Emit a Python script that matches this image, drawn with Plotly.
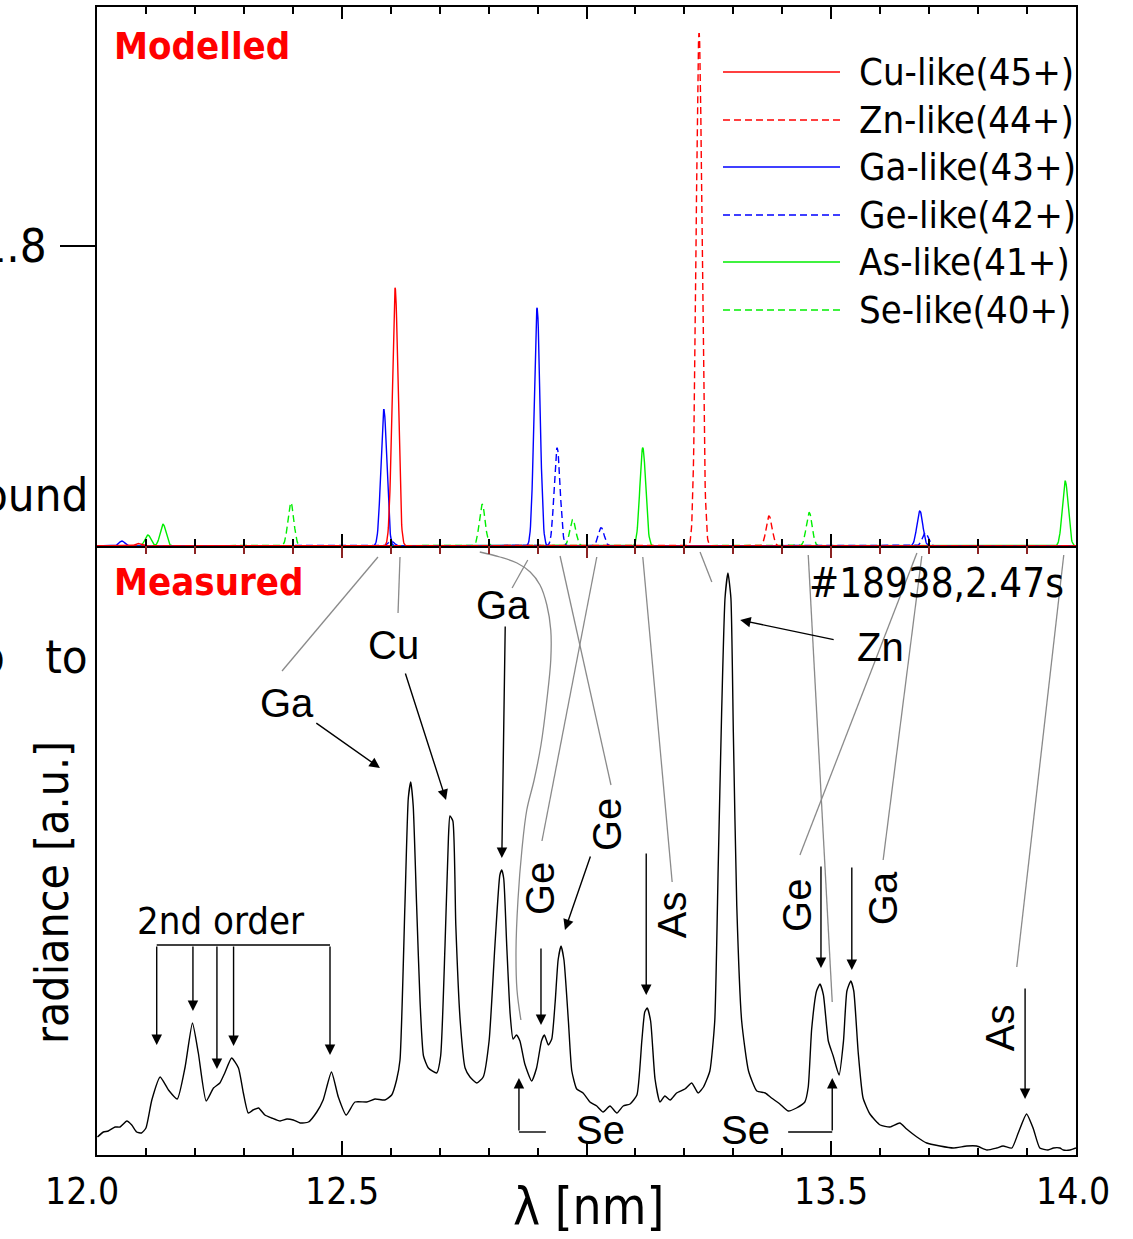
import numpy as np
import plotly.graph_objects as go

# ---------------- modelled line lists: wavelength [nm] and relative intensity ----------------
cu_like_wl = [12.084, 12.609]
cu_like_int = [0.015, 1.55]
zn_like_wl = [13.230, 13.373]
zn_like_int = [3.08, 0.18]
ga_like_wl = [12.051, 12.586, 12.899, 13.681]
ga_like_int = [0.03, 0.82, 1.43, 0.21]
ge_like_wl = [12.601, 12.940, 13.030, 13.692]
ge_like_int = [0.03, 0.59, 0.11, 0.08]
as_like_wl = [12.104, 12.135, 13.115, 13.978]
as_like_int = [0.066, 0.13, 0.59, 0.39]
se_like_wl = [12.396, 12.787, 12.972, 13.455]
se_like_int = [0.26, 0.25, 0.16, 0.20]
line_sigma_nm = 0.006  # instrumental broadening of the synthetic lines

series_names = ["Cu-like(45+)", "Zn-like(44+)", "Ga-like(43+)",
                "Ge-like(42+)", "As-like(41+)", "Se-like(40+)"]

# ---------------- measured spectrum (#18938, 2.47 s) ----------------
meas_wl = [12.001, 12.013, 12.023, 12.037, 12.047, 12.061, 12.071, 12.081, 12.091, 12.100,
           12.112, 12.129, 12.146, 12.164, 12.180, 12.195, 12.207, 12.223, 12.238, 12.251,
           12.261, 12.275, 12.289, 12.299, 12.309, 12.319, 12.330, 12.343, 12.357, 12.374,
           12.388, 12.401, 12.415, 12.432, 12.449, 12.462, 12.479, 12.493, 12.509, 12.527,
           12.551, 12.568, 12.588, 12.602, 12.612, 12.619, 12.629, 12.636, 12.641, 12.646,
           12.653, 12.660, 12.667, 12.677, 12.694, 12.702, 12.711, 12.718, 12.721, 12.727,
           12.733, 12.742, 12.752, 12.762, 12.776, 12.789, 12.801, 12.813, 12.823, 12.827,
           12.831, 12.837, 12.844, 12.850, 12.857, 12.864, 12.874, 12.888, 12.898, 12.908,
           12.914, 12.922, 12.929, 12.936, 12.942, 12.948, 12.954, 12.963, 12.970, 12.980,
           12.993, 13.007, 13.021, 13.034, 13.048, 13.062, 13.075, 13.089, 13.103, 13.113,
           13.119, 13.124, 13.131, 13.140, 13.150, 13.160, 13.171, 13.184, 13.201, 13.215,
           13.228, 13.239, 13.252, 13.262, 13.269, 13.276, 13.283, 13.289, 13.295, 13.300,
           13.307, 13.317, 13.331, 13.348, 13.365, 13.378, 13.395, 13.412, 13.429, 13.446,
           13.453, 13.460, 13.470, 13.477, 13.484, 13.494, 13.504, 13.516, 13.525, 13.532,
           13.540, 13.546, 13.555, 13.565, 13.579, 13.600, 13.620, 13.640, 13.654, 13.675,
           13.695, 13.722, 13.749, 13.777, 13.797, 13.818, 13.838, 13.851, 13.869, 13.882,
           13.899, 13.913, 13.926, 13.943, 13.954, 13.967, 13.974, 13.988, 14.000]
meas_rad = [0.18, 0.23, 0.24, 0.28, 0.28, 0.34, 0.30, 0.23, 0.22, 0.27,
            0.55, 0.78, 0.65, 0.56, 0.88, 1.32, 1.02, 0.54, 0.67, 0.72,
            0.82, 0.97, 0.87, 0.62, 0.42, 0.45, 0.47, 0.40, 0.37, 0.34,
            0.36, 0.35, 0.32, 0.33, 0.43, 0.55, 0.83, 0.58, 0.40, 0.53,
            0.53, 0.56, 0.55, 0.60, 0.75, 0.95, 2.49, 3.57, 3.73, 3.49,
            2.49, 1.53, 0.99, 0.87, 0.82, 0.99, 2.10, 3.18, 3.39, 3.34,
            2.30, 1.34, 0.87, 0.78, 0.72, 0.78, 1.14, 2.10, 2.80, 2.85,
            2.76, 2.10, 1.41, 1.16, 1.20, 1.14, 0.91, 0.74, 0.87, 1.14,
            1.20, 1.10, 1.16, 1.53, 1.95, 2.09, 1.95, 1.34, 0.84, 0.66,
            0.62, 0.53, 0.49, 0.43, 0.49, 0.42, 0.49, 0.51, 0.60, 1.14,
            1.43, 1.47, 1.34, 0.76, 0.53, 0.59, 0.55, 0.62, 0.66, 0.72,
            0.62, 0.68, 0.84, 1.34, 2.87, 4.41, 5.57, 5.82, 5.57, 4.22,
            2.49, 1.34, 0.84, 0.64, 0.62, 0.57, 0.51, 0.44, 0.47, 0.53,
            0.68, 1.26, 1.64, 1.71, 1.60, 1.14, 0.99, 0.80, 1.14, 1.64,
            1.74, 1.64, 1.03, 0.57, 0.41, 0.30, 0.28, 0.32, 0.26, 0.18,
            0.12, 0.09, 0.07, 0.09, 0.09, 0.05, 0.07, 0.09, 0.07, 0.22,
            0.41, 0.26, 0.07, 0.05, 0.07, 0.07, 0.05, 0.05, 0.07]

x_tick_vals = [12.0, 12.5, 13.0, 13.5, 14.0]
x_label_vals = [12.0, 12.5, 13.5, 14.0]
x_label_text = ["12.0", "12.5", "13.5", "14.0"]

# ---------------- geometry ----------------
W, H = 1133, 1239
ML, MR, MT, MB = 97, 57, 7, 84
PW, PH = W - ML - MR, H - MT - MB
SPLIT = (H - MB - 546) / PH  # boundary between the two panels


def pxx(x):
    return (x - ML) / PW


def pxy(y):
    return (H - MB - y) / PH


NARROW = "DejaVu Sans Condensed, Liberation Sans Narrow, Arial Narrow, sans-serif"
SANS = "Liberation Sans, Arial, Helvetica, sans-serif"
RED, BLUE, GREEN = "#ff0000", "#0000ff", "#00ee00"
DASH = "7px,4px"

fig = go.Figure()

# ---------------- modelled spectra (top panel) ----------------
grid = np.arange(12.0, 14.0 + 1e-9, 0.0008)


def broadened(wl, amp):
    prof = np.zeros_like(grid)
    for c, a in zip(wl, amp):
        prof += a * np.exp(-0.5 * ((grid - c) / line_sigma_nm) ** 2)
    return prof


model = [
    (series_names[4], as_like_wl, as_like_int, GREEN, "solid"),
    (series_names[5], se_like_wl, se_like_int, GREEN, DASH),
    (series_names[2], ga_like_wl, ga_like_int, BLUE, "solid"),
    (series_names[3], ge_like_wl, ge_like_int, BLUE, DASH),
    (series_names[0], cu_like_wl, cu_like_int, RED, "solid"),
    (series_names[1], zn_like_wl, zn_like_int, RED, DASH),
]
for name, wl, amp, col, dash in model:
    fig.add_trace(go.Scatter(x=grid, y=broadened(wl, amp), mode="lines", name=name,
                             line=dict(color=col, width=1.4, dash=dash),
                             xaxis="x", yaxis="y", hoverinfo="skip"))

# ---------------- measured spectrum (bottom panel) ----------------
fig.add_trace(go.Scatter(x=meas_wl, y=meas_rad, mode="lines", name="measured",
                         line=dict(color="black", width=1.4, shape="spline", smoothing=0.5),
                         xaxis="x2", yaxis="y2", hoverinfo="skip"))

# curved leader from the Se-like model line to the measured Se feature
se_lead_wl = [12.782, 12.823, 12.858, 12.885, 12.905, 12.919, 12.927, 12.927, 12.919,
              12.907, 12.893, 12.878, 12.868, 12.860, 12.856, 12.858, 12.866]
se_lead_rad = [6.03, 5.98, 5.92, 5.83, 5.70, 5.50, 5.25, 4.95, 4.55,
               4.10, 3.75, 3.45, 3.05, 2.55, 2.05, 1.65, 1.35]
fig.add_trace(go.Scatter(x=se_lead_wl, y=se_lead_rad, mode="lines",
                         line=dict(color="#8a8a8a", width=1.3, shape="spline"),
                         xaxis="x2", yaxis="y2", hoverinfo="skip"))

# carrier for the dark-red tick row on the upper edge of the lower panel
fig.add_trace(go.Scatter(x=[], y=[], xaxis="x3", yaxis="y2", hoverinfo="skip"))

shapes = []
annotations = []

# straight grey leaders: model line -> measured label
leaders = [
    (12.574, 5.98, 12.378, 4.84),
    (12.619, 5.98, 12.615, 5.42),
    (12.880, 5.95, 12.848, 5.67),
    (12.946, 5.99, 13.050, 3.70),
    (13.021, 5.98, 12.909, 3.14),
    (13.115, 5.98, 13.175, 2.73),
    (13.232, 6.03, 13.256, 5.73),
    (13.453, 6.00, 13.502, 1.53),
    (13.675, 6.02, 13.436, 3.00),
    (13.685, 5.99, 13.606, 2.95),
    (13.975, 6.00, 13.879, 1.88),
]
for x0, y0, x1, y1 in leaders:
    shapes.append(dict(type="line", xref="x2", yref="y2", x0=x0, y0=y0, x1=x1, y1=y1,
                       line=dict(color="#8a8a8a", width=1.3)))


def arrow(x0, y0, x1, y1):
    annotations.append(dict(x=x1, y=y1, ax=x0, ay=y0, xref="x2", yref="y2",
                            axref="x2", ayref="y2", text="", showarrow=True,
                            arrowhead=2, arrowsize=1.5, arrowwidth=1.4,
                            arrowcolor="black", standoff=0, startstandoff=0))


def seg(x0, y0, x1, y1):
    shapes.append(dict(type="line", xref="x2", yref="y2", x0=x0, y0=y0, x1=x1, y1=y1,
                       line=dict(color="black", width=1.4)))


# black identification arrows
arrow(12.445, 4.33, 12.578, 3.87)   # Ga
arrow(12.629, 4.83, 12.713, 3.55)   # Cu
arrow(12.834, 5.30, 12.827, 2.97)   # Ga
arrow(12.907, 2.08, 12.907, 1.30)   # Ge
arrow(13.009, 3.00, 12.956, 2.25)   # Ge
arrow(13.122, 3.03, 13.122, 1.60)   # As
arrow(13.508, 5.15, 13.314, 5.35)   # Zn
arrow(13.479, 2.90, 13.479, 1.87)   # Ge
arrow(13.542, 2.89, 13.542, 1.85)   # Ga
arrow(13.896, 1.68, 13.896, 0.56)   # As

# Se brackets
seg(12.917, 0.23, 12.862, 0.23)
arrow(12.862, 0.23, 12.862, 0.77)
seg(13.412, 0.23, 13.502, 0.23)
arrow(13.502, 0.23, 13.502, 0.77)

# second-order bracket
seg(12.122, 2.10, 12.476, 2.10)
for xx, tip in [(12.122, 1.10), (12.196, 1.44), (12.245, 0.86), (12.279, 1.09), (12.476, 1.00)]:
    arrow(xx, 2.10, xx, tip)


def label(text, x, y, size=40, angle=0, family=SANS, xref="x2", yref="y2",
          xanchor="center", color="black", xshift=0):
    annotations.append(dict(x=x, y=y, xref=xref, yref=yref, text=text, showarrow=False,
                            textangle=angle, xanchor=xanchor, yanchor="middle",
                            xshift=xshift,
                            font=dict(family=family, size=size, color=color)))


for txt, x, y, ang in [("Ga", 12.388, 4.52, 0), ("Cu", 12.605, 5.10, 0), ("Ga", 12.829, 5.50, 0),
                       ("Ge", 12.905, 2.66, -90), ("Ge", 13.042, 3.30, -90),
                       ("As", 13.175, 2.40, -90), ("Zn", 13.600, 5.08, 0),
                       ("Ge", 13.430, 2.50, -90), ("Ga", 13.606, 2.57, -90),
                       ("As", 13.845, 1.27, -90), ("Se", 13.028, 0.25, 0),
                       ("Se", 13.324, 0.25, 0)]:
    label(txt, x, y, size=40, angle=ang)

label("2nd order", 12.253, 2.34, size=38, family=NARROW)
label("#18938,2.47s", 13.714, 5.72, size=40, family=NARROW)

# wavelength tick labels (the first one sits clear of the frame corner)
for val, txt in zip(x_label_vals, x_label_text):
    label(txt, val, pxy(1191), size=37, family=NARROW, xref="x2", yref="paper",
          xshift=-15 if val == 12.0 else (-3 if val == 14.0 else 0))

# panel captions
label("<b>Modelled</b>", pxx(112), pxy(46), size=38, family=NARROW, xref="paper", yref="paper",
      xanchor="left", color=RED)
label("<b>Measured</b>", pxx(112), pxy(582), size=38, family=NARROW, xref="paper", yref="paper",
      xanchor="left", color=RED)

# legend drawn as line samples with text
legend_rows = [72, 120, 167, 215, 262, 310]
legend_style = [(RED, "solid"), (RED, DASH), (BLUE, "solid"), (BLUE, DASH),
                (GREEN, "solid"), (GREEN, DASH)]
for name, row, (col, dash) in zip(series_names, legend_rows, legend_style):
    shapes.append(dict(type="line", xref="paper", yref="paper",
                       x0=pxx(723), x1=pxx(840), y0=pxy(row), y1=pxy(row),
                       line=dict(color=col, width=1.4, dash=dash)))
    label(name, pxx(857), pxy(row), size=38, family=NARROW, xref="paper", yref="paper",
          xanchor="left")

# axis caption and clipped side texts
label("λ [nm]", pxx(588), pxy(1206), size=51, family=NARROW, xref="paper", yref="paper")
label("ound", pxx(90), pxy(495), size=47, family=NARROW, xref="paper", yref="paper",
      xanchor="right")
label("p\u00a0\u00a0\u00a0to", pxx(90), pxy(656), size=47, family=NARROW, xref="paper",
      yref="paper", xanchor="right")
label("radiance [a.u.]", pxx(52), pxy(893), size=46, angle=-90, family=NARROW,
      xref="paper", yref="paper")

frame = dict(showline=True, linecolor="black", linewidth=2, showgrid=False,
             zeroline=False, automargin=False)

fig.update_layout(
    width=W, height=H, margin=dict(l=ML, r=MR, t=MT, b=MB),
    template="none", paper_bgcolor="white", plot_bgcolor="white",
    showlegend=False, shapes=shapes, annotations=annotations,
    xaxis=dict(domain=[0, 1], anchor="y", range=[12, 14], mirror="ticks",
               ticks="inside", tickcolor="black", tickwidth=2, ticklen=12,
               tick0=12, dtick=0.5, showticklabels=False,
               minor=dict(tick0=12, dtick=0.1, ticks="inside", ticklen=7,
                          tickwidth=1.5, tickcolor="black"), **frame),
    yaxis=dict(domain=[SPLIT, 1], anchor="x", range=[0, 3.234], mirror=True,
               ticks="outside", tickvals=[1.8], ticktext=["1.8"], ticklen=35,
               tickwidth=2, tickcolor="black", ticklabelstandoff=4,
               tickfont=dict(family=NARROW, size=47, color="black"), **frame),
    xaxis2=dict(domain=[0, 1], anchor="y2", range=[12, 14], ticks="inside",
                tickvals=x_tick_vals, ticklen=14, tickwidth=2, tickcolor="black",
                showticklabels=False,
                minor=dict(tickmode="linear", tick0=12, dtick=0.1, ticks="inside",
                           ticklen=7, tickwidth=1.5, tickcolor="black"), **frame),
    xaxis3=dict(overlaying="x2", anchor="y2", side="top", range=[12, 14],
                showline=False, showgrid=False, zeroline=False, ticks="inside",
                tickcolor="#8b2323", ticklen=12, tickwidth=2, tick0=12, dtick=0.5,
                showticklabels=False,
                minor=dict(tick0=12, dtick=0.1, ticks="inside", ticklen=8,
                           tickwidth=1.5, tickcolor="#8b2323")),
    yaxis2=dict(domain=[0, SPLIT], anchor="x2", range=[0, 6.09], mirror=True,
                ticks="", showticklabels=False, **frame),
)

fig.write_html("out.html")
